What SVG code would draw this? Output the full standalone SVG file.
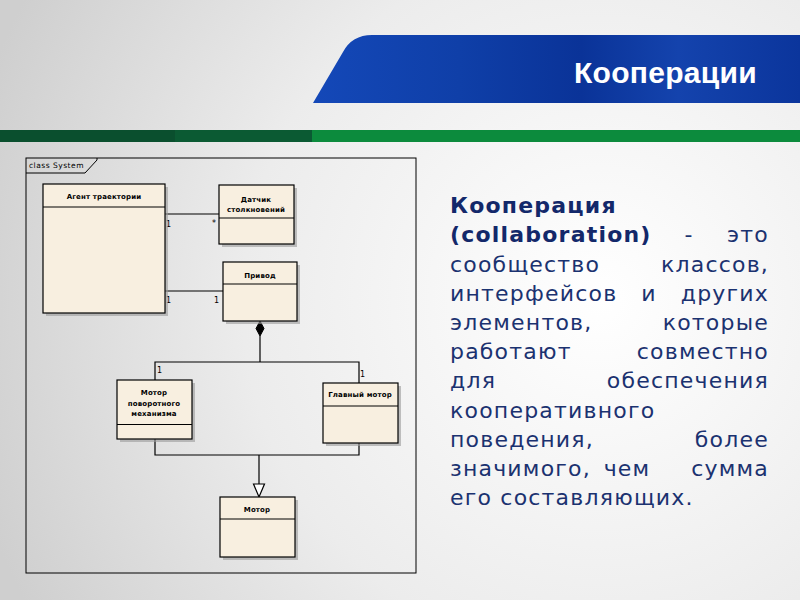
<svg xmlns="http://www.w3.org/2000/svg" width="800" height="600" viewBox="0 0 800 600">
<defs>
<radialGradient id="bg" cx="600" cy="300" r="650" gradientUnits="userSpaceOnUse">
<stop offset="0" stop-color="#ffffff"/>
<stop offset="0.55" stop-color="#ececec"/>
<stop offset="1" stop-color="#cfcfcf"/>
</radialGradient>
<linearGradient id="blue" x1="0" y1="0" x2="1" y2="0">
<stop offset="0" stop-color="#1448b8"/>
<stop offset="0.3" stop-color="#0f3fa8"/>
<stop offset="0.55" stop-color="#0a3398"/>
<stop offset="0.75" stop-color="#1443ad"/>
<stop offset="1" stop-color="#0b359c"/>
</linearGradient>
<style>
.box{fill:#f8efe0;stroke:#000;stroke-width:1.2}
.shadow{fill:#9a9a9a;opacity:0.6}
.div{stroke:#000;stroke-width:1}
.lbl{font-family:"DejaVu Sans",sans-serif;font-size:7px;font-weight:bold;letter-spacing:0.15px;fill:#000;text-anchor:middle}
.mul{font-family:"DejaVu Sans",sans-serif;font-size:8px;fill:#000}
.conn{fill:none;stroke:#000;stroke-width:1.2}
.body{font-family:"DejaVu Sans",sans-serif;font-size:22px;letter-spacing:1.2px;fill:#1b3270}
.bold{font-weight:bold;fill:#13286a}
.r{text-anchor:end}
.m{text-anchor:middle}
</style>
</defs>
<rect x="0" y="0" width="800" height="600" fill="url(#bg)"/>
<g id="header">
<path d="M313,103 L343,52 Q352,35 372,35 L800,35 L800,103 Z" fill="url(#blue)"/>
<text x="757" y="83" font-family="Liberation Sans, Arial, sans-serif" font-size="30" font-weight="bold" letter-spacing="0.3" fill="#ffffff" text-anchor="end">Кооперации</text>
<rect x="0" y="130" width="175" height="12" fill="#0a4f2e"/>
<rect x="175" y="130" width="137" height="12" fill="#0b5a33"/>
<rect x="312" y="130" width="488" height="12" fill="#0c8b3d"/>
</g>
<g id="frame">
<rect x="26" y="158" width="390" height="415" fill="none" stroke="#000" stroke-width="1"/>
<path d="M26,173 L85,173 L97,160 L97,158" fill="none" stroke="#000" stroke-width="1"/>
<text x="29" y="168" font-family="DejaVu Sans, sans-serif" font-size="7.5" letter-spacing="0.5" fill="#000">class System</text>
</g>
<g id="connectors">
<line class="conn" x1="165" y1="214" x2="219" y2="214"/>
<line class="conn" x1="165" y1="291" x2="223" y2="291"/>
<polyline class="conn" points="260,336 260,362"/>
<polyline class="conn" points="155,380 155,362 359,362 359,383"/>
<polygon points="260,321 264,328.5 260,336 256,328.5" fill="#000" stroke="#000" stroke-width="1"/>
<polyline class="conn" points="155,439 155,455 359,455 359,443"/>
<line class="conn" x1="259" y1="455" x2="259" y2="484"/>
<polygon points="253.5,484 264.5,484 259,497" fill="#fff" stroke="#000" stroke-width="1.2"/>
<text class="mul" x="166" y="227">1</text>
<text class="mul" x="212" y="226">*</text>
<text class="mul" x="166" y="303">1</text>
<text class="mul" x="214" y="303">1</text>
<text class="mul" x="157" y="373">1</text>
<text class="mul" x="360" y="377">1</text>
</g>
<g id="agent">
<rect class="shadow" x="46" y="187" width="122" height="129"/>
<rect class="box" x="43" y="184" width="122" height="129"/>
<line class="div" x1="43" y1="207" x2="165" y2="207"/>
<text class="lbl" x="104" y="199">Агент траектории</text>
</g>
<g id="sensor">
<rect class="shadow" x="222" y="188" width="75" height="59"/>
<rect class="box" x="219" y="185" width="75" height="59"/>
<line class="div" x1="219" y1="218" x2="294" y2="218"/>
<text class="lbl" x="256" y="202">Датчик</text>
<text class="lbl" x="256" y="212">столкновений</text>
</g>
<g id="drive">
<rect class="shadow" x="226" y="265" width="74" height="59"/>
<rect class="box" x="223" y="262" width="74" height="59"/>
<line class="div" x1="223" y1="284" x2="297" y2="284"/>
<text class="lbl" x="260" y="278">Привод</text>
</g>
<g id="rotmotor">
<rect class="shadow" x="120" y="383" width="75" height="59"/>
<rect class="box" x="117" y="380" width="75" height="59"/>
<line class="div" x1="117" y1="424.5" x2="192" y2="424.5"/>
<text class="lbl" x="154" y="395">Мотор</text>
<text class="lbl" x="154" y="405.5">поворотного</text>
<text class="lbl" x="154" y="416">механизма</text>
</g>
<g id="mainmotor">
<rect class="shadow" x="326" y="386" width="75" height="60"/>
<rect class="box" x="323" y="383" width="75" height="60"/>
<line class="div" x1="323" y1="406" x2="398" y2="406"/>
<text class="lbl" x="360" y="397">Главный мотор</text>
</g>
<g id="motor">
<rect class="shadow" x="223" y="500" width="75" height="60"/>
<rect class="box" x="220" y="497" width="75" height="60"/>
<line class="div" x1="220" y1="519" x2="295" y2="519"/>
<text class="lbl" x="257" y="512">Мотор</text>
</g>
<g id="description">
<text class="body bold" x="450" y="213">Кооперация</text>
<text class="body bold" x="450" y="242">(collaboration)</text>
<text class="body m" x="689" y="242">-</text>
<text class="body r" x="769" y="242">это</text>
<text class="body" x="450" y="271.5">сообщество</text>
<text class="body r" x="769" y="271.5">классов,</text>
<text class="body" x="450" y="300.5">интерфейсов</text>
<text class="body m" x="649" y="300.5">и</text>
<text class="body r" x="769" y="300.5">других</text>
<text class="body" x="450" y="329.5">элементов,</text>
<text class="body r" x="769" y="329.5">которые</text>
<text class="body" x="450" y="359">работают</text>
<text class="body r" x="769" y="359">совместно</text>
<text class="body" x="450" y="388">для</text>
<text class="body r" x="769" y="388">обеспечения</text>
<text class="body" x="450" y="417.5">кооперативного</text>
<text class="body" x="450" y="446.5">поведения,</text>
<text class="body r" x="769" y="446.5">более</text>
<text class="body" x="450" y="476">значимого,</text>
<text class="body m" x="627" y="476">чем</text>
<text class="body r" x="769" y="476">сумма</text>
<text class="body" x="450" y="505">его составляющих.</text>
</g>
</svg>
